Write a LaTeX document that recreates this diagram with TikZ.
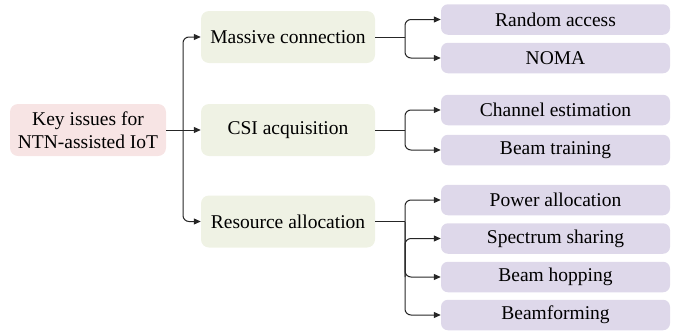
\documentclass[tikz,border=0pt]{standalone}
\usepackage{fontspec}
\setmainfont{Liberation Serif}
\newfontfamily\figserif{Liberation Serif}
\usetikzlibrary{arrows.meta}
\definecolor{rootfill}{RGB}{247,228,228}
\definecolor{midfill}{RGB}{239,242,228}
\definecolor{leaffill}{RGB}{222,216,234}
\begin{document}
\begin{tikzpicture}[x=1pt,y=1pt,
  box/.style={rounded corners=8pt, minimum height=52pt, align=center,
    font=\figserif\fontsize{19.5}{23.5}\selectfont, inner sep=0pt},
  rootbox/.style={box, fill=rootfill, minimum width=156pt},
  midbox/.style={box, fill=midfill, minimum width=174pt},
  leafbox/.style={box, fill=leaffill, minimum width=229pt, minimum height=30.5pt, rounded corners=7pt},
  conn/.style={line width=1pt, draw=black!85, rounded corners=6pt},
  arr/.style={conn, -{Triangle[length=7pt,width=6pt]}}
]
\useasboundingbox (0,0) rectangle (681,-333);
% root
\node[rootbox] (root) at (88,-130) {Key issues for\\NTN-assisted IoT};
% middle level
\node[midbox] (m1) at (288,-37) {Massive connection};
\node[midbox] (m2) at (288,-130) {CSI acquisition};
\node[midbox] (m3) at (288,-221.5) {Resource allocation};
% leaves
\node[leafbox] (l1) at (555.5,-19.5) {Random access};
\node[leafbox] (l2) at (555.5,-58) {NOMA};
\node[leafbox] (l3) at (555.5,-110) {Channel estimation};
\node[leafbox] (l4) at (555.5,-150) {Beam training};
\node[leafbox] (l5) at (555.5,-200) {Power allocation};
\node[leafbox] (l6) at (555.5,-238.5) {Spectrum sharing};
\node[leafbox] (l7) at (555.5,-277) {Beam hopping};
\node[leafbox] (l8) at (555.5,-315) {Beamforming};
% trunk
\coordinate (t) at (183,-130);
\draw[arr] (root.east) -- (m2.west);
\draw[arr] (t) |- (m1.west);
\draw[arr] (t) |- (m3.west);
% branch points
\coordinate (b1) at (405,-37);
\coordinate (b2) at (405,-130);
\coordinate (b3) at (405,-221.5);
\draw[conn] (m1.east) -- (b1);
\draw[arr] (b1) |- (l1.west);
\draw[arr] (b1) |- (l2.west);
\draw[conn] (m2.east) -- (b2);
\draw[arr] (b2) |- (l3.west);
\draw[arr] (b2) |- (l4.west);
\draw[conn] (m3.east) -- (b3);
\draw[arr] (b3) |- (l5.west);
\draw[arr] (b3) |- (l7.west);
\draw[arr] (b3) |- (l8.west);
\coordinate (b4) at (405,-277);
\draw[arr] (b4) |- (l6.west);
\end{tikzpicture}
\end{document}
